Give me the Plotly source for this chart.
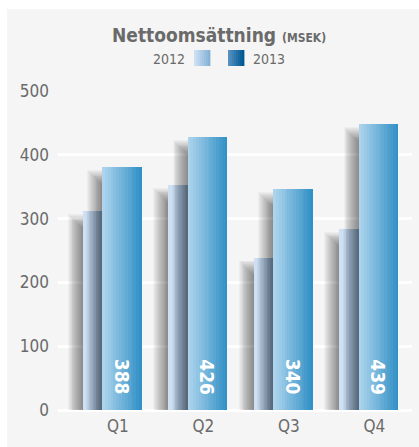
import plotly.graph_objects as go

# ---------------- data ----------------
quarters = ["Q1", "Q2", "Q3", "Q4"]
sales_2012 = [312, 353, 239, 284]
sales_2013 = [381, 428, 346, 448]
labels_2013 = ["388", "426", "340", "439"]
y_ticks = [0, 100, 200, 300, 400, 500]

# ---------------- styling ----------------
FONT = "Noto Sans Condensed, DejaVu Sans Condensed, sans-serif"
PANEL = "#f5f5f5"
TXT = "#6a6a6a"
W, H = 419, 447
ML, MR, MT, MB = 58, 7, 91, 37
PW, PH = W - ML - MR, H - MT - MB
X_RANGE = [-0.70, 3.44]
Y_RANGE = [0, 500]
PX_PER_CAT = PW / (X_RANGE[1] - X_RANGE[0])
UNITS_PER_PX = (Y_RANGE[1] - Y_RANGE[0]) / PH

W_BAR = 0.465
OFF_2012 = -0.41
OFF_2013 = -0.184


def fnt(size, color=TXT, weight="normal"):
    return dict(family=FONT, size=size, color=color, weight=weight)


def lerp(c0, c1, t):
    return "rgb(%d,%d,%d)" % tuple(round(a + (b - a) * t) for a, b in zip(c0, c1))


fig = go.Figure()


def add_shadow(values, offset, shift_px=8, drop_px=10, blur_px=7, n=16, alpha=0.03):
    """soft drop shadow to the left of a bar: stacked translucent rectangles"""
    right = offset + W_BAR * 0.6
    for k in range(n):
        e = -blur_px + 2 * blur_px * k / (n - 1)
        left = offset - (shift_px + e) / PX_PER_CAT
        fig.add_trace(go.Bar(
            x=quarters, y=[v - (drop_px - e) * UNITS_PER_PX for v in values],
            offset=left, width=right - left,
            marker=dict(color="rgba(0,0,0,%.3f)" % alpha, line=dict(width=0)),
            hoverinfo="skip", showlegend=False))


def add_gradient_bar(values, offset, c0, c1, n=14):
    sw = W_BAR / n
    for i in range(n):
        fig.add_trace(go.Bar(
            x=quarters, y=values,
            offset=offset + i * sw,
            width=sw * (1.4 if i < n - 1 else 1.0),
            marker=dict(color=lerp(c0, c1, i / (n - 1)), line=dict(width=0)),
            hoverinfo="skip", showlegend=False))


add_shadow(sales_2012, OFF_2012)
add_gradient_bar(sales_2012, OFF_2012, (206, 224, 242), (95, 135, 175), n=12)
add_shadow(sales_2013, OFF_2013)
add_gradient_bar(sales_2013, OFF_2013, (174, 212, 237), (50, 145, 198), n=14)

# value labels inside the 2013 bars
annotations = []
for i, lab in enumerate(labels_2013):
    annotations.append(dict(
        x=i + OFF_2013 + W_BAR / 2, y=52, xref="x", yref="y",
        text=lab, textangle=90, showarrow=False,
        font=fnt(19, "white", "bold"),
        xanchor="center", yanchor="middle"))


def px_x(px):
    return (px - ML) / PW


def px_y(py):
    return (H - MB - py) / PH


# title
annotations.append(dict(
    x=px_x(219), y=px_y(35), xref="paper", yref="paper",
    text="Nettoomsättning <span style='font-size:12px'>(MSEK)</span>",
    showarrow=False, xanchor="center", yanchor="middle",
    font=fnt(19, TXT, "bold")))
# legend texts
annotations.append(dict(
    x=px_x(187), y=px_y(59), xref="paper", yref="paper", text="2012",
    showarrow=False, xanchor="right", yanchor="middle",
    font=fnt(14)))
annotations.append(dict(
    x=px_x(251), y=px_y(59), xref="paper", yref="paper", text="2013",
    showarrow=False, xanchor="left", yanchor="middle",
    font=fnt(14)))

shapes = []
# white page outside the grey panel
shapes.append(dict(type="rect", xref="paper", yref="paper",
                   x0=px_x(0), x1=px_x(7), y0=px_y(H), y1=px_y(0),
                   fillcolor="white", line=dict(width=0), layer="below"))
shapes.append(dict(type="rect", xref="paper", yref="paper",
                   x0=px_x(0), x1=px_x(W), y0=px_y(9), y1=px_y(0),
                   fillcolor="white", line=dict(width=0), layer="below"))


def legend_swatch(x0px, c0, c1, n=8):
    sw = 16 / n
    for i in range(n):
        shapes.append(dict(type="rect", xref="paper", yref="paper",
                           x0=px_x(x0px + i * sw), x1=px_x(x0px + (i + 1) * sw + 0.4),
                           y0=px_y(66), y1=px_y(50),
                           fillcolor=lerp(c0, c1, i / (n - 1)), line=dict(width=0)))


legend_swatch(194, (204, 224, 243), (135, 178, 214))
legend_swatch(228, (85, 145, 192), (0, 88, 148))

fig.update_layout(
    width=W, height=H,
    margin=dict(l=ML, r=MR, t=MT, b=MB, pad=0),
    paper_bgcolor=PANEL, plot_bgcolor=PANEL,
    barmode="overlay", bargap=0,
    showlegend=False,
    font=fnt(16),
    annotations=annotations, shapes=shapes,
    xaxis=dict(type="category", categoryorder="array", categoryarray=quarters,
               range=X_RANGE, showgrid=False, zeroline=False, showline=False,
               ticks="", tickfont=fnt(17),
               ticklabelstandoff=4, fixedrange=True),
    yaxis=dict(range=Y_RANGE, tickvals=y_ticks, showgrid=True,
               gridcolor="white", gridwidth=2.5, zeroline=True,
               zerolinecolor="white", zerolinewidth=2.5, showline=False,
               ticks="", tickfont=fnt(17),
               ticklabelstandoff=8, fixedrange=True),
)

fig.write_html("out.html", config={"displayModeBar": False},
               post_script="document.body.style.margin='0';document.body.style.padding='0';")
